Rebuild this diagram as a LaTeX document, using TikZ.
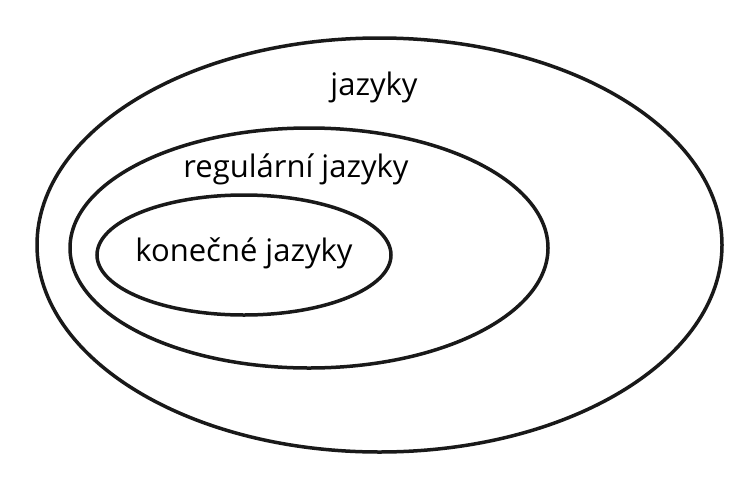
\documentclass[tikz,border=0pt]{standalone}
\usepackage{fontspec}
\setmainfont{Open Sans}
\usetikzlibrary{shapes.geometric}
\tikzset{
    setnode/.style={ellipse,draw=black!90,line width=3.5pt,inner sep=0pt},
    setlabel/.style={anchor=base,inner sep=0pt,font=\fontsize{31}{36}\selectfont}
}
\begin{document}
\begin{tikzpicture}[x=1pt,y=-1pt]
\useasboundingbox (0,0) rectangle (751,479);

% mnoziny
\node[setnode,minimum width=685pt,minimum height=414pt] (vse) at (379.5,245) {};
\node[setnode,minimum width=478pt,minimum height=240pt] (reg) at (309,248) {};
\node[setnode,minimum width=294pt,minimum height=120pt] (kon) at (244,255) {};

% popisky
\node[setlabel] (vselbl) at (374,95) {jazyky};
\node[setlabel] (reglbl) at (296,177) {regulární jazyky};
\node[setlabel] (konlbl) at (244,261) {konečné jazyky};
\end{tikzpicture}
\end{document}
